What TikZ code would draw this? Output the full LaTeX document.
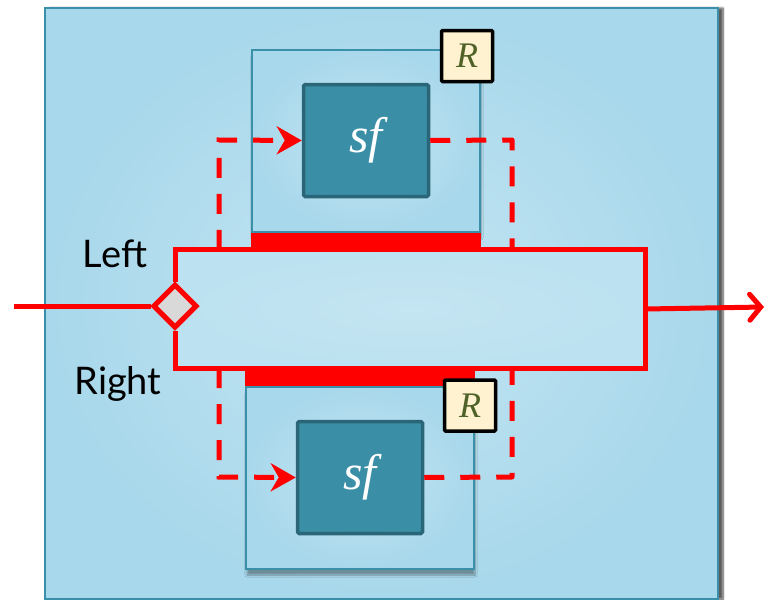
\documentclass[tikz,border=0pt]{standalone}
\usepackage{fontspec}
\setmainfont{Lato}
\newfontfamily\mathitfont{Liberation Serif}
\usetikzlibrary{arrows.meta,shapes.geometric,shadows.blur}
\definecolor{edgeblue}{HTML}{A8D8EB}
\definecolor{midblue}{HTML}{C4E5F2}
\definecolor{tealline}{HTML}{3A90A8}
\definecolor{sffill}{HTML}{3A8FA6}
\definecolor{sfline}{HTML}{2A6678}
\definecolor{rfill}{HTML}{FFF2D0}
\definecolor{rtext}{HTML}{4F6228}
\definecolor{diafill}{HTML}{D9D9D9}
\tikzset{
  panel/.style={draw=tealline, line width=1.5pt, inner color=midblue, outer color=edgeblue,
    blur shadow={shadow xshift=1pt, shadow yshift=-6pt, shadow blur steps=8, shadow opacity=35}},
  sfbox/.style={draw=sfline, fill=sffill, line width=3.5pt, rounded corners=1.5pt,
    minimum width=125pt, minimum height=112pt, text=white,
    font=\mathitfont\itshape\fontsize{50}{50}\selectfont},
  rbox/.style={draw=black, fill=rfill, line width=3.5pt, rounded corners=1pt,
    minimum width=51pt, minimum height=51pt, inner sep=0pt, text=rtext,
    font=\mathitfont\itshape\fontsize{36}{36}\selectfont},
  redline/.style={draw=red, line width=5pt},
  reddash/.style={draw=red, line width=5pt, dash pattern=on 20pt off 16pt},
  lbl/.style={font=\fontsize{38}{38}\selectfont, text=black},
}
\begin{document}
\begin{tikzpicture}[x=1pt,y=-1pt]
\useasboundingbox (0,0) rectangle (769,600);
\clip (0,0) rectangle (769,600);
% outer panel
\node[panel, minimum width=673pt, minimum height=591pt, inner sep=0pt,
  blur shadow={shadow xshift=5pt, shadow yshift=0pt, shadow blur steps=8, shadow opacity=40}] (outer) at (381.5,303.5) {};
% big rectangle fill
\node[inner color=midblue, outer color=midblue!70!edgeblue, minimum width=470pt, minimum height=118pt, inner sep=0pt] (big) at (410,309) {};
% top panel
\node[panel, minimum width=228pt, minimum height=182pt, inner sep=0pt] (topbox) at (366,141) {};
\fill[red] (topbox.south west) rectangle ([yshift=-18pt]topbox.south east);
% bottom panel
\node[panel, minimum width=228pt, minimum height=182pt, inner sep=0pt] (botbox) at (360,478) {};
\fill[red] (botbox.north west) rectangle ([yshift=19pt]botbox.north east);
% sf boxes
\node[sfbox] (topsf) at (366,140.5) {sf};
\node[sfbox] (botsf) at (360,477.5) {sf};
% R boxes
\node[rbox] (topR) at (467,56) {R};
\node[rbox] (botR) at (470,405.5) {R};
% diamond
\node[diamond, draw=red, fill=diafill, line width=5pt, minimum width=44pt, minimum height=44pt, inner sep=0pt] (dia) at (175,306) {};
% coordinates
\coordinate (in) at (14,306);
\coordinate (out) at (764,307);
\coordinate (tl) at (219,140);
\coordinate (tr) at (512,140);
\coordinate (bl) at (219,477);
\coordinate (br) at (512,477);
% red main path
\draw[redline, line join=miter] (dia.north) |- (big.north east) -- (big.south east) -| (dia.south);
\draw[redline] (in) -- (dia.west);
\draw[redline, -{Straight Barb[length=11pt,width=26pt,line cap=round]}] (big.east) -- (out);
% dashed feedback
\draw[reddash, -{Stealth[length=25pt,width=28pt,inset=8pt]}] (tl |- big.north) -- (tl) -- (topsf.west);
\draw[reddash, line join=round] (topsf.east) -- (tr) -- (tr |- big.north);
\draw[reddash, -{Stealth[length=25pt,width=28pt,inset=8pt]}] (bl |- big.south) -- (bl) -- (botsf.west);
\draw[reddash, line join=round] (botsf.east) -- (br) -- (br |- big.south);
% redraw diamond on top
\node[diamond, draw=red, fill=diafill, line width=5pt, minimum width=44pt, minimum height=44pt, inner sep=0pt] at (dia) {};
% labels
\node[lbl] (left) at (115,254) {Left};
\node[lbl] (right) at (118,384) {Right};
\end{tikzpicture}
\end{document}
